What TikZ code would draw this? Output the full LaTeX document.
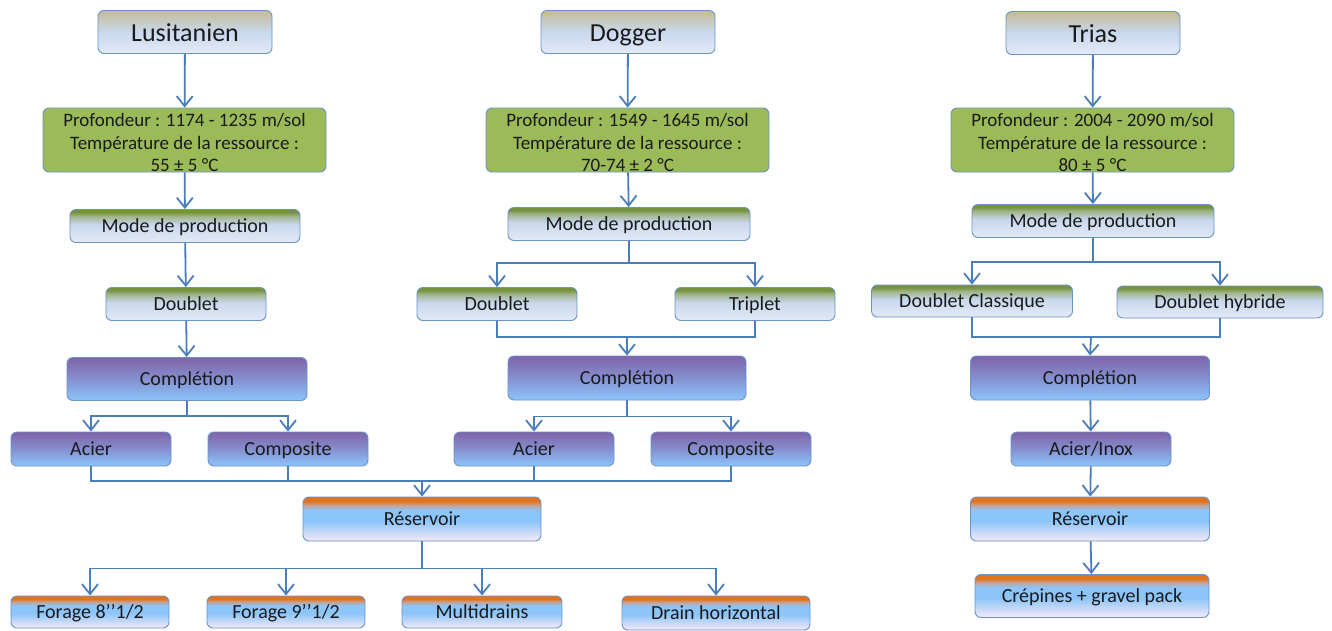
\documentclass[tikz,border=0pt]{standalone}
\usepackage{fontspec}
\setmainfont{Carlito}
\usetikzlibrary{arrows.meta}
\definecolor{lnblue}{HTML}{4A7EBB}
\definecolor{bord}{HTML}{6A93C8}
\definecolor{grn}{HTML}{9BBB59}
\definecolor{dgrn}{HTML}{76923C}
\definecolor{dgrnmix}{HTML}{A0B48C}
\definecolor{lblue}{HTML}{C9D8EE}
\definecolor{pblue}{HTML}{E3EAF7}
\definecolor{tanc}{HTML}{C4BC96}
\definecolor{purp}{HTML}{7F63A8}
\definecolor{purpmix}{HTML}{8590D0}
\definecolor{sky}{HTML}{8CC5FA}
\definecolor{orng}{HTML}{E0741E}
\definecolor{orngmix}{HTML}{C8A090}
\definecolor{pinkc}{HTML}{F6E9F6}
\definecolor{txt}{HTML}{1A1A1A}
\pgfdeclareverticalshading{titleshade}{100bp}{color(0bp)=(pblue); color(25bp)=(pblue); color(50bp)=(lblue); color(75bp)=(tanc); color(100bp)=(tanc)}
\pgfdeclareverticalshading{modeshade}{100bp}{color(0bp)=(pblue); color(25bp)=(pblue); color(52bp)=(lblue); color(65bp)=(dgrnmix); color(71bp)=(dgrn); color(100bp)=(dgrn)}
\pgfdeclareverticalshading{compshade}{100bp}{color(0bp)=(sky); color(25bp)=(sky); color(50bp)=(purpmix); color(75bp)=(purp); color(100bp)=(purp)}
\pgfdeclareverticalshading{resshade}{100bp}{color(0bp)=(pinkc); color(25bp)=(pinkc); color(48bp)=(sky); color(60bp)=(sky); color(66bp)=(orngmix); color(70bp)=(orng); color(100bp)=(orng)}
\tikzset{
  box/.style={draw=bord, line width=0.9pt, rounded corners=6pt, inner sep=0pt, align=center, text=txt, font=\fontsize{20}{22}\selectfont},
  one/.style={text height=12.6pt, text depth=0pt},
  titlebox/.style={box, shading=titleshade, font=\fontsize{26}{28}\selectfont, text height=18.4pt, text depth=0pt, minimum width=174pt, minimum height=43pt},
  greenbox/.style={box, fill=grn, minimum width=283pt, minimum height=64pt},
  greentext/.style={font=\fontsize{19}{22.5}\selectfont, text=txt, align=center},
  modebox/.style={box, one, shading=modeshade, minimum height=33pt},
  compbox/.style={box, one, shading=compshade},
  resbox/.style={box, one, shading=resshade},
  conn/.style={draw=lnblue, line width=1.8pt},
  arr/.style={conn, -{Straight Barb[length=10pt,width=16pt]}}
}
\begin{document}
\begin{tikzpicture}[x=1pt,y=-1pt]
\useasboundingbox[fill=white] (0,0) rectangle (1332,630);
% Column 1
\node[titlebox] (t1) at (185,32) {Lusitanien};
\node[greenbox] (g1) at (184.5,140) {};
\node[greentext] (g1t) at (184.5,142.5) {Profondeur : 1174 - 1235 m/sol\\Température de la ressource :\\55 ± 5 °C};
\node[modebox, minimum width=230pt] (mo1) at (185,226) {Mode de production};
\node[modebox, minimum width=160pt] (d1) at (186,304) {Doublet};
\node[compbox, minimum width=240pt, minimum height=43pt] (c1) at (187,379) {Complétion};
\node[compbox, minimum width=160pt, minimum height=34pt] (a1) at (91,449) {Acier};
\node[compbox, minimum width=160pt, minimum height=34pt] (k1) at (288,449) {Composite};
% Column 2
\node[titlebox] (t2) at (628,32) {Dogger};
\node[greenbox] (g2) at (627.5,140) {};
\node[greentext] (g2t) at (627.5,142.5) {Profondeur : 1549 - 1645 m/sol\\Température de la ressource :\\70-74 ± 2 °C};
\node[modebox, minimum width=242pt] (mo2) at (629,224) {Mode de production};
\node[modebox, minimum width=160pt] (d2) at (497,304) {Doublet};
\node[modebox, minimum width=160pt] (tr2) at (755,304) {Triplet};
\node[compbox, minimum width=238pt, minimum height=44pt] (c2) at (627,378) {Complétion};
\node[compbox, minimum width=160pt, minimum height=34pt] (a2) at (534,449) {Acier};
\node[compbox, minimum width=160pt, minimum height=34pt] (k2) at (731,449) {Composite};
% Shared reservoir
\node[resbox, minimum width=238pt, minimum height=44pt] (r) at (422,519) {Réservoir};
\node[resbox, minimum width=158pt, minimum height=32pt] (f1) at (90,612) {Forage 8’’1/2};
\node[resbox, minimum width=158pt, minimum height=32pt] (f2) at (286,612) {Forage 9’’1/2};
\node[resbox, minimum width=160pt, minimum height=32pt] (f3) at (482,612) {Multidrains};
\node[resbox, minimum width=188pt, minimum height=34pt] (f4) at (716,613) {Drain horizontal};
% Column 3
\node[titlebox] (t3) at (1093,33) {Trias};
\node[greenbox] (g3) at (1092.5,140) {};
\node[greentext] (g3t) at (1092.5,142.5) {Profondeur : 2004 - 2090 m/sol\\Température de la ressource :\\80 ± 5 °C};
\node[modebox, minimum width=242pt] (mo3) at (1093,221) {Mode de production};
\node[modebox, minimum width=201pt, minimum height=32pt] (dc3) at (972,301) {Doublet Classique};
\node[modebox, minimum width=206pt, minimum height=32pt] (dh3) at (1220,302) {Doublet hybride};
\node[compbox, minimum width=239pt, minimum height=44pt] (c3) at (1090,378) {Complétion};
\node[compbox, minimum width=160pt, minimum height=34pt] (a3) at (1091,449) {Acier/Inox};
\node[resbox, minimum width=239pt, minimum height=44pt] (r3) at (1090,519) {Réservoir};
\node[resbox, minimum width=234pt, minimum height=43pt] (cr3) at (1092,596) {Crépines + gravel pack};
% merge points
\coordinate (m1) at (422,481);
\coordinate (m2) at (627,337);
\coordinate (m3) at (1091,337);
% Connectors column 1
\draw[arr] (t1) -- (g1);
\draw[arr] (g1) -- (mo1);
\draw[arr] (mo1) -- (d1);
\draw[arr] (d1) -- (c1);
\draw[arr] (c1.south) -- ++(0,15) -| (a1.north);
\draw[arr] (c1.south) -- ++(0,15) -| (k1.north);
% Connectors column 2
\draw[arr] (t2) -- (g2);
\draw[arr] (g2) -- (mo2);
\draw[arr] (mo2.south) -- ++(0,22) -| (d2.north);
\draw[arr] (mo2.south) -- ++(0,22) -| (tr2.north);
\draw[conn] (d2.south) |- (m2);
\draw[conn] (tr2.south) |- (m2);
\draw[arr] (m2) -- (c2.north);
\draw[arr] (c2.south) -- ++(0,16) -| (a2.north);
\draw[arr] (c2.south) -- ++(0,16) -| (k2.north);
% merge to reservoir
\draw[conn] (a1.south) |- (m1);
\draw[conn] (k2.south) |- (m1);
\draw[conn] (k1.south) -- (k1.south |- m1);
\draw[conn] (a2.south) -- (a2.south |- m1);
\draw[arr] (m1) -- (r.north);
\draw[arr] (r.south) -- ++(0,27) -| (f1.north);
\draw[arr] (r.south) -- ++(0,27) -| (f2.north);
\draw[arr] (r.south) -- ++(0,27) -| (f3.north);
\draw[arr] (r.south) -- ++(0,27) -| (f4.north);
% Connectors column 3
\draw[arr] (t3) -- (g3);
\draw[arr] (g3) -- (mo3);
\draw[arr] (mo3.south) -- ++(0,24) -| (dc3.north);
\draw[arr] (mo3.south) -- ++(0,24) -| (dh3.north);
\draw[conn] (dc3.south) |- (m3);
\draw[conn] (dh3.south) |- (m3);
\draw[arr] (m3) -- (c3.north);
\draw[arr] (c3) -- (a3);
\draw[arr] (a3) -- (r3);
\draw[arr] (r3) -- (cr3);
\end{tikzpicture}
\end{document}
